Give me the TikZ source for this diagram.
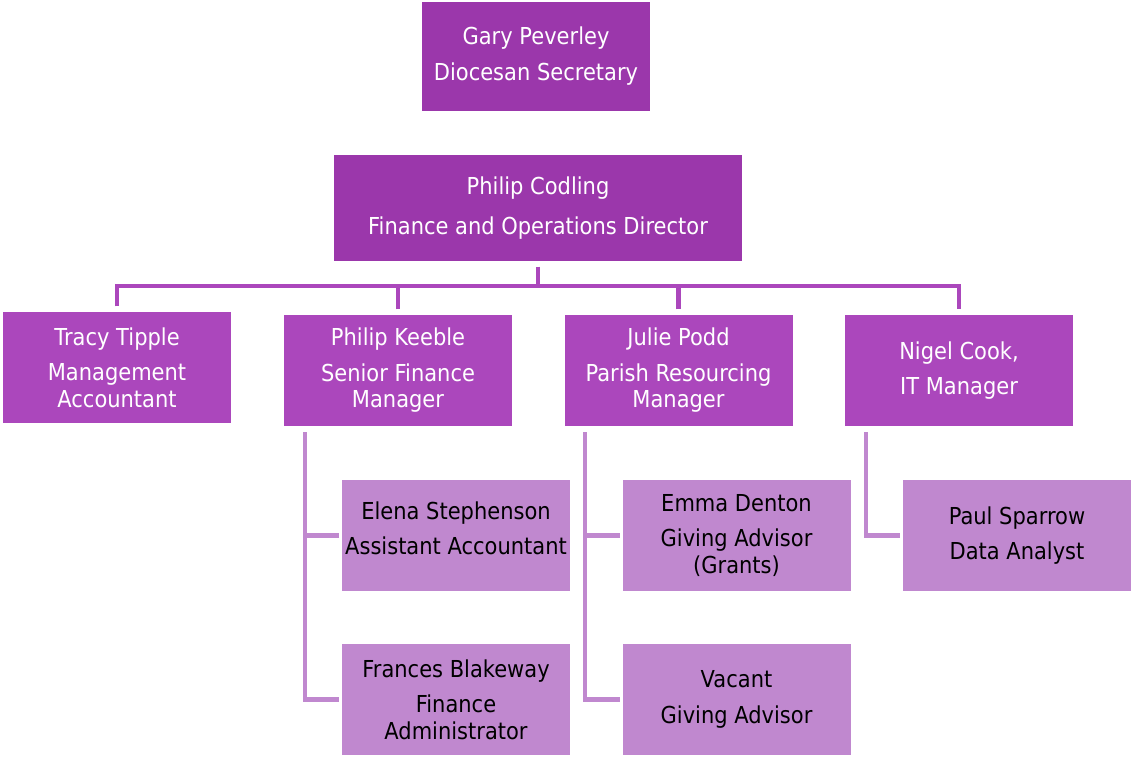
\documentclass[tikz,border=0pt]{standalone}
\usepackage{fontspec}
\setmainfont[FakeStretch=0.9]{DejaVu Sans}
\definecolor{topc}{HTML}{9B37AB}
\definecolor{midc}{HTML}{AB47BC}
\definecolor{subc}{HTML}{C088CF}
\tikzset{
  boxfont/.style={font=\fontsize{17.5}{20}\selectfont},
  topbox/.style={fill=topc,text=white,inner sep=0pt,align=center,minimum width=171pt,minimum height=82pt,boxfont},
  midbox/.style={fill=midc,text=white,inner sep=0pt,align=center,minimum width=171pt,minimum height=83.25pt,boxfont},
  subbox/.style={fill=subc,text=black,inner sep=0pt,align=center,minimum width=171pt,minimum height=83.25pt,boxfont},
  mainline/.style={draw=midc,line width=3.2pt},
  subline/.style={draw=subc,line width=3.2pt}
}
\begin{document}
\begin{tikzpicture}[x=0.75pt,y=-0.75pt]
\useasboundingbox (0,0) rectangle (1132,757);
\node[topbox] (gary) at (536,56.5) {Gary Peverley\\[7pt]Diocesan Secretary};
\node[topbox,minimum width=306pt,minimum height=79.5pt] (codling) at (538,208) {Philip Codling\\[9.5pt]Finance and Operations Director};
\node[midbox] (tracy) at (117,367.5) {Tracy Tipple\\[6.5pt]Management\\Accountant};
\node[midbox] (keeble) at (398,370.5) {Philip Keeble\\[6.5pt]Senior Finance\\Manager};
\node[midbox] (julie) at (678.5,370.5) {Julie Podd\\[6.5pt]Parish Resourcing\\Manager};
\node[midbox] (nigel) at (959,370.5) {Nigel Cook,\\[6.5pt]IT Manager};
\node[subbox] (elena) at (456,535.5) {Elena Stephenson\\[6.5pt]Assistant Accountant\\[-9pt]\mbox{}};
\node[subbox] (frances) at (456,699.5) {Frances Blakeway\\[6.5pt]Finance\\Administrator};
\node[subbox] (emma) at (736.5,535.5) {Emma Denton\\[6.5pt]Giving Advisor\\(Grants)};
\node[subbox] (vacant) at (736.5,699.5) {Vacant\\[6.5pt]Giving Advisor};
\node[subbox] (paul) at (1017,535.5) {Paul Sparrow\\[6.5pt]Data Analyst};
% main bus
\draw[mainline,shorten <=4pt] (codling.south) -- ++(0,25) coordinate (bus);
\draw[mainline,shorten <=4pt,shorten >=4pt] (tracy.north) |- (bus) -| (nigel.north);
\draw[mainline,shorten <=4pt] (keeble.north) -- (keeble.north |- bus);
\draw[mainline,shorten <=4pt] (julie.north) -- (julie.north |- bus);
% sub lines
\draw[subline,shorten >=2pt] ([xshift=15.75pt,yshift=-4.5pt]keeble.south west) |- (frances.west);
\draw[subline,shorten <=2pt] (elena.west) -- ++(-37,0);
\draw[subline,shorten >=2pt] ([xshift=15.75pt,yshift=-4.5pt]julie.south west) |- (vacant.west);
\draw[subline,shorten <=2pt] (emma.west) -- ++(-37,0);
\draw[subline,shorten >=2pt] ([xshift=15.75pt,yshift=-4.5pt]nigel.south west) |- (paul.west);
\end{tikzpicture}
\end{document}
